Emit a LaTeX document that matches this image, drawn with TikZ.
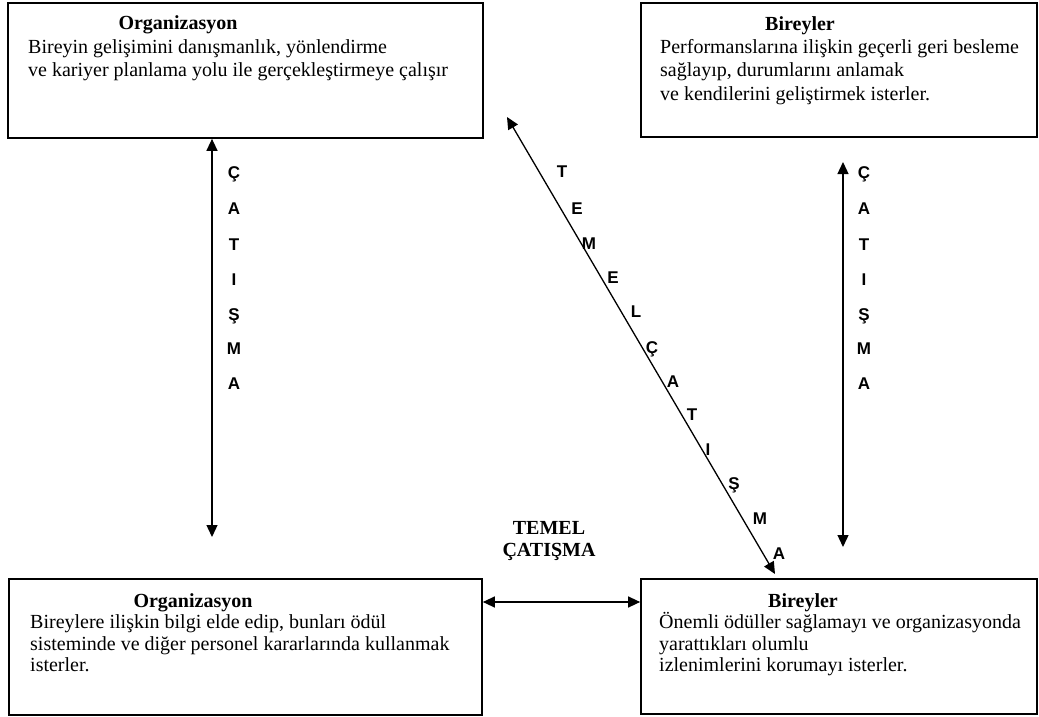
\documentclass[tikz,border=0pt]{standalone}
\usepackage{fontspec}
\setmainfont{Liberation Serif}
\newfontfamily\arialf{Liberation Sans}
\usetikzlibrary{arrows.meta}
\begin{document}
\begin{tikzpicture}[x=1pt,y=-1pt,
  boxr/.style={draw, line width=1.7pt, inner sep=0pt},
  txt/.style={inner sep=0pt, anchor=base west, font=\fontsize{20}{23}\selectfont},
  ttl/.style={inner sep=0pt, anchor=base, font=\fontsize{20}{23}\selectfont\bfseries},
  ltr/.style={inner sep=0pt, anchor=center, text height=12pt, text depth=0pt, font=\arialf\bfseries\fontsize{17}{17}\selectfont},
  dbl/.style={line width=1.3pt, {Triangle[length=12pt,width=11pt]}-{Triangle[length=12pt,width=11pt]}}
]
\useasboundingbox (0,0) rectangle (1039,717);
% boxes
\node[boxr, minimum width=475pt, minimum height=135pt] (tl) at (245.5,70.5) {};
\node[boxr, minimum width=396pt, minimum height=134pt] (tr) at (839,70) {};
\node[boxr, minimum width=473pt, minimum height=136pt] (bl) at (245.5,647) {};
\node[boxr, minimum width=396pt, minimum height=135pt] (br) at (839,646.5) {};
% texts top-left
\node[ttl] (tlt) at (178,30) {Organizasyon};
\node[txt] (tl1) at (28,54) {Bireyin gelişimini danışmanlık, yönlendirme};
\node[txt] (tl2) at (28,77) {ve kariyer planlama yolu ile gerçekleştirmeye çalışır};
% texts top-right
\node[ttl] (trt) at (800,31) {Bireyler};
\node[txt] (tr1) at (660,54) {Performanslarına ilişkin geçerli geri besleme};
\node[txt] (tr2) at (660,77) {sağlayıp, durumlarını anlamak};
\node[txt] (tr3) at (660,100) {ve kendilerini geliştirmek isterler.};
% texts bottom-left
\node[ttl] (blt) at (193,607) {Organizasyon};
\node[txt] (bl1) at (30,628.5) {Bireylere ilişkin bilgi elde edip, bunları ödül};
\node[txt] (bl2) at (30,650) {sisteminde ve diğer personel kararlarında kullanmak};
\node[txt] (bl3) at (30,671.5) {isterler.};
% texts bottom-right
\node[ttl] (brt) at (803,607) {Bireyler};
\node[txt] (br1) at (659,628.5) {Önemli ödüller sağlamayı ve organizasyonda};
\node[txt] (br2) at (659,650) {yarattıkları olumlu};
\node[txt] (br3) at (659,671.5) {izlenimlerini korumayı isterler.};
% central label
\node[ttl] (tm1) at (549,534) {TEMEL};
\node[ttl] (tm2) at (549,556) {ÇATIŞMA};
% connectors
\coordinate (la) at (212,537);
\draw[dbl] (la) -- (la |- tl.south);
\coordinate (ra1) at (843,162);
\coordinate (ra2) at (843,547);
\draw[dbl] (ra1) -- (ra2);
\coordinate (d1) at (507,117);
\coordinate (d2) at (775,574);
\draw[dbl] (d1) -- (d2);
\coordinate (hz) at (0,602);
\draw[dbl] (bl.east |- hz) -- (br.west |- hz);
% left column letters
\node[ltr] (l1) at (234,172) {Ç};
\node[ltr] (l2) at (234,208) {A};
\node[ltr] (l3) at (234,244) {T};
\node[ltr] (l4) at (234,279) {I};
\node[ltr] (l5) at (234,314) {Ş};
\node[ltr] (l6) at (234,348) {M};
\node[ltr] (l7) at (234,383) {A};
% right column letters
\node[ltr] (r1) at (864,172) {Ç};
\node[ltr] (r2) at (864,208) {A};
\node[ltr] (r3) at (864,244) {T};
\node[ltr] (r4) at (864,279) {I};
\node[ltr] (r5) at (864,314) {Ş};
\node[ltr] (r6) at (864,348) {M};
\node[ltr] (r7) at (864,383) {A};
% diagonal letters
\node[ltr] (g1) at (562,171) {T};
\node[ltr] (g2) at (577,208) {E};
\node[ltr] (g3) at (589,243) {M};
\node[ltr] (g4) at (613,277) {E};
\node[ltr] (g5) at (636,311) {L};
\node[ltr] (g6) at (652,347) {Ç};
\node[ltr] (g7) at (673,381) {A};
\node[ltr] (g8) at (692,414) {T};
\node[ltr] (g9) at (708,449) {I};
\node[ltr] (g10) at (734,483) {Ş};
\node[ltr] (g11) at (760,518) {M};
\node[ltr] (g12) at (779,553) {A};
\end{tikzpicture}
\end{document}
